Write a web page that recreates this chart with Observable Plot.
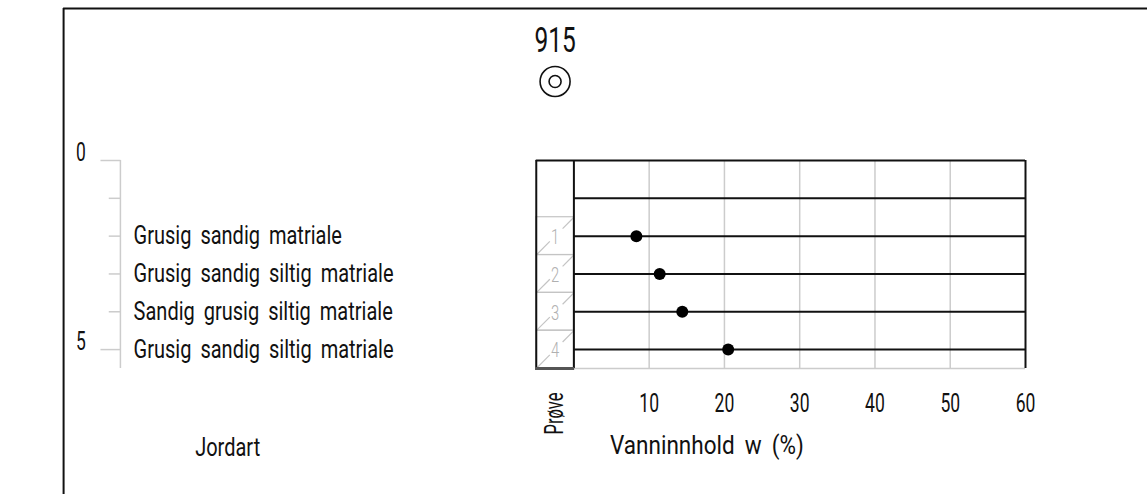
<!DOCTYPE html>
<html>
<head>
<meta charset="utf-8">
<script src="https://cdn.jsdelivr.net/npm/d3@7"></script>
<script src="https://cdn.jsdelivr.net/npm/@observablehq/plot@0.6"></script>
<style>
  html, body { margin: 0; padding: 0; background: #fff; }
  #chart svg { display: block; }
  #chart text { word-spacing: 5px; }
</style>
</head>
<body>
<div id="chart"></div>
<script>
// ---- data ----
const boreholeId = "915";
const depthTicks = [0, 1, 2, 3, 4, 5];
const depthLabels = [0, 5];
const layerDepths = [2, 3, 4, 5];
const layerNames = [
  "Grusig sandig matriale",
  "Grusig sandig siltig matriale",
  "Sandig grusig siltig matriale",
  "Grusig sandig siltig matriale"
];
const sampleIds = [1, 2, 3, 4];
const sampleDepths = [2, 3, 4, 5];
const waterContent = [8.3, 11.4, 14.4, 20.5];
const xTicks = [10, 20, 30, 40, 50, 60];
const gridX = [10, 20, 30, 40, 50];
const rowLines = [1, 2, 3, 4, 5];
const xTitle = "Vanninnhold w (%)";
const sampleTitle = "Prøve";
const soilTitle = "Jordart";

// ---- layout constants (in scale units) ----
const X_MAX = 60, Y_MAX = 5.5;
const COL_L = -5, COL_R = 0, COL_C = -2.5;
const FRAME_X = -67.8, FRAME_Y = -4.02;
const AXIS_X = -60.25, TICK_SHORT = -61.8, TICK_LONG = -62.9;
const LABEL_X = -58.5, DEPTH_LABEL_X = -65.5;
const FONT = "Roboto, 'DejaVu Sans', sans-serif";

const layers = layerNames.map((name, i) => ({depth: layerDepths[i], name}));
const samples = sampleIds.map((id, i) => ({id, depth: sampleDepths[i], w: waterContent[i]}));
const depthTickData = depthTicks.map(d => ({d, long: depthLabels.includes(d)}));

const diagLow = samples.map(s => ({x1: COL_L, y1: s.depth + 0.5, x2: COL_L + 5 * 0.36, y2: s.depth + 0.5 - 0.36}));
const diagHigh = samples.map(s => ({x1: COL_L + 5 * 0.7, y1: s.depth + 0.5 - 0.7, x2: COL_R, y2: s.depth - 0.5}));

const chart = Plot.plot({
  width: 1147,
  height: 494,
  margin: 0,
  style: {fontFamily: FONT, background: "#fff"},
  x: {domain: [0, X_MAX], range: [573.4, 1025], axis: null},
  y: {domain: [0, Y_MAX], range: [160, 368], axis: null},
  marks: [
    // outer frame
    Plot.ruleX([FRAME_X], {y1: FRAME_Y, y2: 8.9, stroke: "#111", strokeWidth: 2}),
    Plot.ruleY([FRAME_Y], {x1: FRAME_X, x2: 80, stroke: "#111", strokeWidth: 2}),

    // borehole id + symbol
    Plot.text([boreholeId], {x: COL_C, y: -3.16, text: d => d, fontSize: 35, fill: "#111"}),
    Plot.dot([0], {x: COL_C, y: -2.09, r: 15, stroke: "#111", strokeWidth: 1.6, fill: "none"}),
    Plot.dot([0], {x: COL_C, y: -2.09, r: 6, stroke: "#111", strokeWidth: 1.6, fill: "none"}),

    // depth axis (left)
    Plot.ruleX([AXIS_X], {y1: 0, y2: Y_MAX, stroke: "#ccc", strokeWidth: 1.5}),
    Plot.link(depthTickData, {x1: d => d.long ? TICK_LONG : TICK_SHORT, x2: AXIS_X, y1: "d", y2: "d", stroke: "#ccc", strokeWidth: 1.5}),
    Plot.text(depthLabels, {x: DEPTH_LABEL_X, y: d => d, dy: -8, text: d => String(d), fontSize: 25, fill: "#111"}),
    Plot.text(layers, {x: LABEL_X, y: "depth", text: "name", textAnchor: "start", fontSize: 25, fill: "#111"}),
    Plot.text([soilTitle], {x: -46, y: 7.59, text: d => d, fontSize: 25, fill: "#111"}),

    // vertical grid
    Plot.ruleX(gridX, {y1: 0, y2: Y_MAX, stroke: "#ccc", strokeWidth: 1.5}),
    // bottom line of data area
    Plot.ruleY([Y_MAX], {x1: COL_R, x2: X_MAX, stroke: "#ccc", strokeWidth: 1.5}),

    // sample boxes in Prøve column
    Plot.rect(samples, {x1: COL_L, x2: COL_R, y1: d => d.depth - 0.5, y2: d => d.depth + 0.5, stroke: "#c4c4c4", strokeWidth: 1.2, fill: "none"}),
    Plot.link(diagLow, {x1: "x1", y1: "y1", x2: "x2", y2: "y2", stroke: "#c4c4c4", strokeWidth: 1.2}),
    Plot.link(diagHigh, {x1: "x1", y1: "y1", x2: "x2", y2: "y2", stroke: "#c4c4c4", strokeWidth: 1.2}),
    Plot.text(samples, {x: COL_C, y: "depth", dy: 1, text: d => String(d.id), fontSize: 21, fontWeight: 300, fill: "#b0b0b0"}),

    // row lines
    Plot.ruleY(rowLines, {x1: COL_R, x2: X_MAX, stroke: "#111", strokeWidth: 2}),

    // borders of the plot box
    Plot.ruleY([0], {x1: COL_L, x2: X_MAX, stroke: "#111", strokeWidth: 2}),
    Plot.ruleX([X_MAX], {y1: 0, y2: Y_MAX, stroke: "#111", strokeWidth: 2}),
    Plot.ruleX([COL_L, COL_R], {y1: 0, y2: Y_MAX, stroke: "#111", strokeWidth: 2}),
    Plot.ruleY([Y_MAX], {x1: COL_L - 0.1, x2: COL_R + 0.1, stroke: "#555", strokeWidth: 3}),

    // data points
    Plot.dot(samples, {x: "w", y: "depth", r: 6, fill: "#000"}),

    // x tick labels and titles
    Plot.text(xTicks, {x: d => d, y: 6.45, text: d => String(d), fontSize: 25, fill: "#111"}),
    Plot.text([xTitle], {x: 4.8, y: 7.54, text: d => d, textAnchor: "start", fontSize: 25, fill: "#111"}),
    Plot.text([sampleTitle], {x: COL_C, y: 6.69, text: d => d, rotate: -90, fontSize: 25, fill: "#111"})
  ]
});
document.getElementById("chart").appendChild(chart);

// narrow, technical-drawing look: condense every label horizontally
chart.querySelectorAll("text").forEach(t => {
  const s = t.textContent;
  let k = 0.8;
  if (/^[0-9]+$/.test(s)) k = 0.7;
  else if (s === sampleTitle) k = 0.66;
  else if (s === xTitle) k = 0.9;
  const w = t.getComputedTextLength();
  if (w > 0) {
    t.setAttribute("textLength", (w * k).toFixed(1));
    t.setAttribute("lengthAdjust", "spacingAndGlyphs");
  }
});
</script>
</body>
</html>
